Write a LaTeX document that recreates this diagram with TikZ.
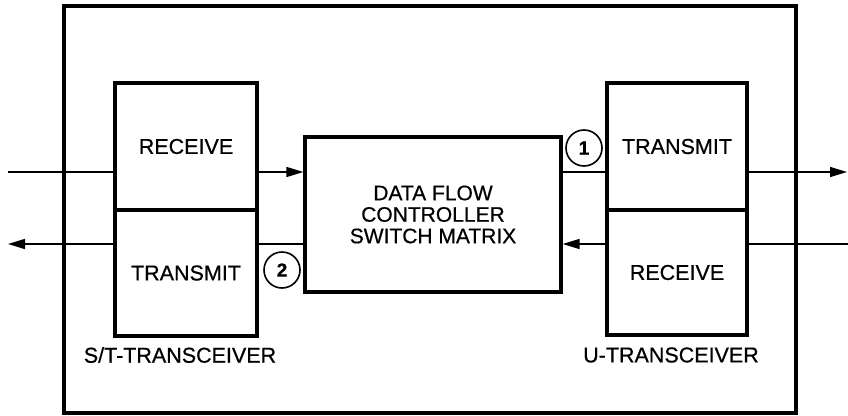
\documentclass[tikz,border=0pt]{standalone}
\usepackage{fontspec}
\setmainfont{Liberation Sans}
\newfontfamily\scanfont{Liberation Sans}[FakeBold=0.6]
\usetikzlibrary{arrows.meta}
\begin{document}
\begin{tikzpicture}[x=1pt,y=-1pt,
  txt/.style={font=\scanfont\fontsize{21.5}{21.5}\selectfont},
  box/.style={draw,line width=3.2pt,inner sep=0pt,txt},
  lbl/.style={inner sep=0pt,txt},
  conn/.style={line width=1.5pt},
  arr/.style={conn,-{Triangle[length=17pt,width=10pt]}},
  num/.style={circle,draw,line width=1.6pt,minimum size=36pt,inner sep=0pt,font=\scanfont\bfseries\fontsize{19}{19}\selectfont}]
\useasboundingbox (0,0) rectangle (848,415);
\node[draw,line width=3.2pt,minimum width=732pt,minimum height=407pt,inner sep=0pt] (outer) at (430,209.5) {};
\node[box,minimum width=142pt,minimum height=127pt] (lrx) at (186,146.5) {RECEIVE};
\node[box,minimum width=142pt,minimum height=126pt] (ltx) at (186,273) {TRANSMIT};
\node[box,minimum width=256pt,minimum height=155pt,align=center,font=\scanfont\fontsize{21}{21.5}\selectfont] (ctrl) at (433,214.5) {DATA FLOW\\CONTROLLER\\SWITCH MATRIX};
\node[box,minimum width=140pt,minimum height=127pt] (rtx) at (677,146.5) {TRANSMIT};
\node[box,minimum width=140pt,minimum height=125pt] (rrx) at (677,272.5) {RECEIVE};
\node[lbl] (stl) at (180,355) {S/T-TRANSCEIVER};
\node[lbl] (ul) at (671,355) {U-TRANSCEIVER};
\node[num] (c1) at (584,148) {1};
\node[num] (c2) at (282,270) {2};
\coordinate (inL) at (8,172);
\coordinate (outL) at (8,244);
\coordinate (outR) at (847,172);
\coordinate (inR) at (848,244);
\draw[conn] (inL) -- (lrx.west |- inL);
\draw[arr] (lrx.east |- inL) -- (ctrl.west |- inL);
\draw[conn] (ctrl.east |- inL) -- (rtx.west |- inL);
\draw[arr] (rtx.east |- inL) -- (outR);
\draw[arr] (ltx.west |- outL) -- (outL);
\draw[conn] (ltx.east |- outL) -- (ctrl.west |- outL);
\draw[conn] (inR) -- (rrx.east |- inR);
\draw[arr] (rrx.west |- inR) -- (ctrl.east |- inR);
\end{tikzpicture}
\end{document}
